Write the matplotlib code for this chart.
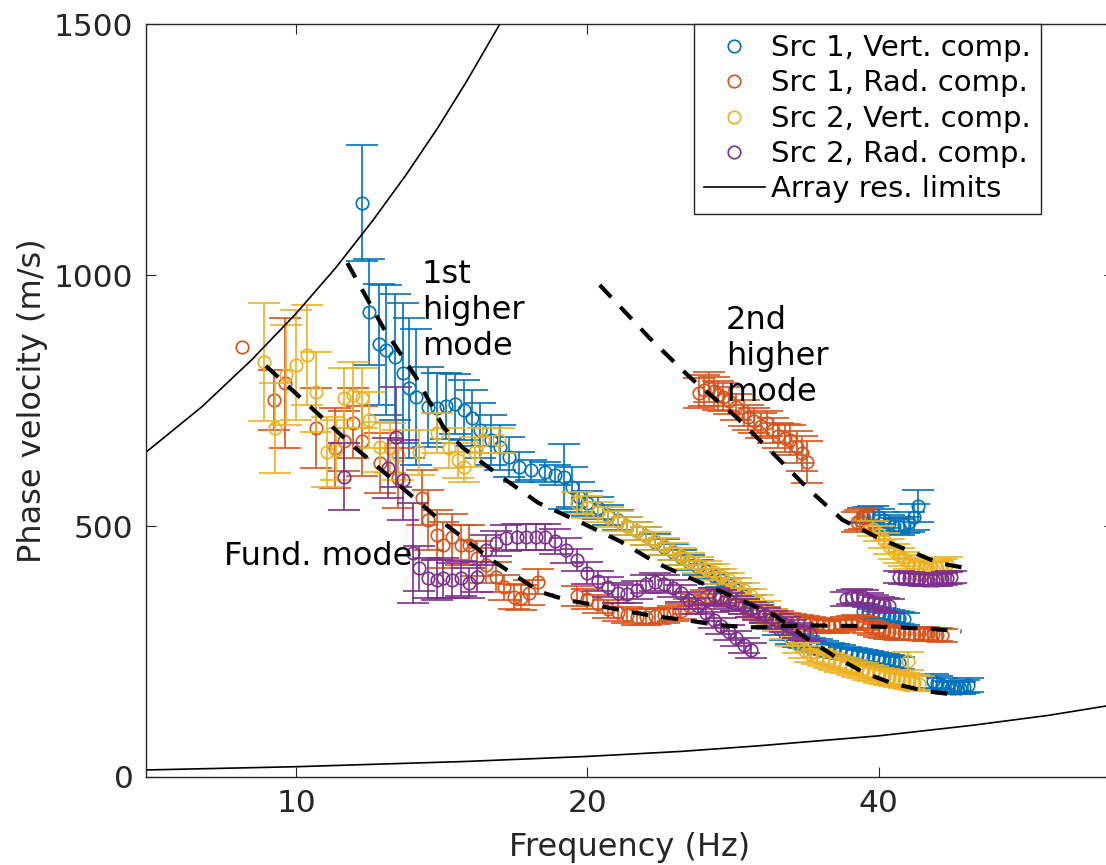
import numpy as np
import matplotlib
matplotlib.use("Agg")
import matplotlib.pyplot as plt
from matplotlib.ticker import NullLocator, FixedLocator, FixedFormatter

# ========== DATA ==========
# Src 1, vertical component
s1v_freq = [11.7, 11.9, 12.18, 12.4, 12.65, 12.9, 13.1, 13.3, 13.7, 14.0, 14.3, 14.6, 14.9, 15.2, 15.5,
            15.9, 16.25, 16.6, 17.0, 17.5, 18.1, 18.5, 18.9, 19.3, 19.6,
            20.0, 20.5, 21.0, 21.5, 22.0, 22.5, 23.0, 23.5, 24.0, 24.5, 25.0, 25.5, 26.0, 26.5, 27.0,
            27.5, 28.0, 28.5, 29.0, 29.5, 30.0, 30.5, 31.0, 31.5, 32.0, 32.5, 33.0, 33.5, 34.0, 34.5,
            35.0, 35.5, 36.0, 36.5, 37.0, 37.5, 38.0, 38.5, 39.0, 39.5, 40.0, 40.5, 41.0, 41.5, 42.0,
            45.5, 46.0, 46.5, 47.0, 47.5, 48.0, 48.5, 49.0, 49.5,
            38.5, 39.0, 39.5, 40.0, 40.5, 41.0, 41.5, 42.0, 42.5, 43.0, 43.5, 43.9,
            38.5, 39.0, 39.5, 40.0, 40.5, 41.0, 41.5, 42.0, 42.5]
s1v_vel = [1143, 926, 862, 851, 837, 805, 775, 757, 737, 735, 739, 743, 731, 715, 691,
           671, 657, 637, 617, 611, 607, 601, 598, 578, 558,
           545, 535, 522, 512, 500, 490, 480, 468, 458, 448, 438, 428, 418, 410, 400,
           392, 382, 372, 360, 348, 335, 320, 308, 296, 285, 278, 272, 268, 265, 262,
           258, 255, 252, 250, 247, 245, 243, 241, 239, 237, 235, 233, 231, 229, 227,
           192, 188, 184, 180, 178, 177, 178, 180, 183,
           520, 522, 524, 518, 512, 506, 500, 498, 502, 508, 518, 540,
           330, 328, 326, 324, 322, 320, 318, 316, 314]
s1v_err = [115, 105, 120, 130, 125, 140, 140, 135, 80, 70, 65, 60, 60, 55, 55,
           50, 45, 40, 30, 20, 20, 20, 65, 40, 30,
           25, 22, 20, 20, 18, 18, 18, 16, 16, 16, 15, 15, 15, 15, 15,
           14, 14, 14, 14, 14, 14, 13, 13, 13, 13, 13, 13, 12, 12, 12,
           12, 12, 12, 12, 12, 12, 12, 12, 12, 12, 12, 12, 12, 12, 12,
           14, 13, 13, 12, 12, 12, 12, 13, 14,
           15, 15, 15, 15, 15, 15, 15, 15, 15, 20, 25, 32,
           12, 12, 12, 12, 12, 12, 12, 12, 12]

# Src 1, radial component
s1r_freq = [8.8, 9.5, 9.74, 10.5, 10.97, 11.2, 11.45, 11.7, 12.2, 12.75, 13.5, 13.7, 14.0, 14.2, 14.5,
            14.8, 15.1, 15.4, 15.7, 16.1, 16.4, 16.8, 17.1, 17.4, 17.8,
            19.5, 20.0, 20.5, 21.0, 21.5, 22.0, 22.5, 23.0, 23.5, 24.0, 24.5, 25.0, 25.5, 26.0, 26.5,
            27.0, 27.5, 28.0, 28.5, 29.0, 29.5, 30.0, 30.5, 31.0, 31.5, 32.0, 32.5, 33.0, 33.5, 34.0,
            34.5, 35.0, 35.5, 36.0, 36.5, 37.0, 37.5, 38.0, 38.5, 39.0, 39.5, 40.0, 40.5, 41.0, 41.5,
            42.0, 42.5, 43.0, 43.5, 44.0, 44.5, 45.0, 45.5, 46.0, 46.5,
            26.1, 26.4, 26.7, 27.0, 27.3, 27.6, 28.0, 28.5, 29.0, 29.3, 29.7, 30.2, 30.7, 31.1, 31.5,
            32.0, 32.4, 32.9, 33.3, 33.7, 38.0, 38.3, 38.6]
s1r_vel = [857, 751, 785, 695, 655, 669, 705, 669, 625, 596, 556, 512, 482, 462, 478,
           462, 462, 436, 422, 398, 378, 359, 357, 367, 389,
           360, 355, 345, 335, 328, 322, 318, 318, 320, 322, 325, 330, 340, 350, 358,
           362, 360, 352, 345, 338, 332, 328, 325, 322, 318, 314, 312, 310, 308, 306,
           304, 302, 300, 300, 302, 305, 308, 310, 306, 300, 296, 292, 290, 288, 287,
           286, 286, 285, 285, 286, 285, 284, 284, 283, 282,
           765, 770, 777, 768, 760, 757, 750, 737, 725, 717, 710, 700, 705, 691, 680,
           675, 671, 657, 645, 627, 508, 512, 515]
s1r_err = [np.nan, 60, 130, 80, 80, 60, 70, 70, 60, 60, 55, 60, 50, 45, 45,
           40, 40, 35, 35, 30, 25, 25, 25, 25, 25,
           20, 20, 18, 18, 18, 16, 16, 16, 16, 15, 15, 15, 15, 15, 15,
           15, 15, 14, 14, 14, 14, 14, 14, 13, 13, 13, 13, 13, 13, 13,
           13, 13, 13, 13, 13, 13, 13, 13, 13, 13, 13, 13, 13, 13, 13,
           13, 13, 13, 13, 13, 13, 13, 13, 13, 13,
           30, 30, 30, 28, 28, 28, 26, 26, 26, 25, 25, 25, 25, 25, 25,
           28, 30, 32, 35, 42, 20, 20, 20]

# Src 2, vertical component
s2v_freq = [9.27, 9.51, 9.76, 10.0, 10.27, 10.5, 10.76, 11.0, 11.2, 11.45, 11.7, 11.9, 12.2, 12.5, 12.75,
            13.4, 14.0, 14.4, 14.7, 14.9, 15.3, 15.6, 16.2,
            19.5, 20.0, 20.5, 21.0, 21.5, 22.0, 22.5, 23.0, 23.5, 24.0, 24.5, 25.0, 25.5, 26.0, 26.5,
            27.0, 27.5, 28.0, 28.5, 29.0, 29.5, 30.0, 30.5, 31.0, 31.5, 32.0, 32.5, 33.0, 33.5, 34.0,
            34.5, 35.0, 35.5, 36.0, 36.5, 37.0, 37.5, 38.0, 38.5, 39.0, 39.5, 40.0, 40.5, 41.0, 41.5,
            42.0, 42.5, 43.0, 43.5, 44.0, 42.9,
            39.5, 40.0, 40.5, 41.0, 41.5, 42.0, 42.5, 43.0, 43.5, 44.0, 44.5, 45.0, 45.5, 46.0, 46.5, 47.0]
s2v_vel = [827, 695, 801, 821, 841, 767, 647, 651, 755, 761, 755, 711, 657, 655, 641,
           647, 685, 655, 631, 617, 647, 671, 671,
           546, 538, 528, 518, 510, 500, 490, 480, 470, 460, 450, 440, 430, 422, 415,
           408, 400, 392, 382, 372, 360, 348, 335, 320, 305, 290, 275, 262, 252, 245,
           240, 236, 232, 228, 225, 222, 218, 215, 212, 209, 206, 203, 200, 198, 196,
           194, 192, 190, 188, 186, 231,
           495, 485, 472, 460, 450, 442, 435, 428, 422, 418, 415, 414, 414, 416, 420, 425]
s2v_err = [117, 90, 100, 110, 100, 80, 70, 60, 60, 65, 60, 55, 50, 50, 50,
           45, 40, 40, 35, 30, 30, 25, 25,
           22, 22, 20, 20, 20, 18, 18, 18, 18, 17, 17, 17, 16, 16, 16,
           16, 15, 15, 15, 15, 15, 15, 15, 15, 15, 15, 15, 15, 15, 15,
           15, 15, 15, 15, 15, 15, 15, 15, 15, 15, 15, 15, 15, 15, 15,
           15, 15, 15, 15, 15, 18,
           15, 15, 15, 15, 15, 15, 14, 14, 14, 14, 14, 14, 14, 14, 14, 14]

# Src 2, radial component
s2r_freq = [11.2, 12.45, 12.7, 12.9, 13.2, 13.4, 13.7, 14.0, 14.2, 14.5, 14.8, 15.1, 15.4, 15.7, 16.1,
            16.5, 16.9, 17.3, 17.7, 18.1,
            18.5, 19.0, 19.5, 20.0, 20.5, 21.0, 21.5, 22.0, 22.5, 23.0, 23.5, 24.0, 24.5, 25.0, 25.5,
            26.0, 26.5, 27.0, 27.5, 28.0, 28.5, 29.0, 29.5,
            27.0, 27.5, 28.0, 28.5, 29.0, 29.5, 30.0, 30.5, 31.0, 31.5, 32.0, 32.5, 33.0, 33.5, 34.0,
            37.0, 37.5, 38.0, 38.5, 39.0, 39.5, 40.0, 40.5, 41.0,
            42.0, 42.5, 43.0, 43.5, 44.0, 44.5, 45.0, 45.5, 46.0, 46.5, 47.0, 47.5]
s2r_vel = [598, 615, 677, 592, 446, 416, 396, 392, 396, 392, 396, 386, 398, 452, 466,
           476, 478, 478, 478, 478,
           470, 452, 432, 406, 390, 379, 367, 365, 372, 385, 388, 384, 376, 366, 352,
           340, 326, 312, 300, 288, 276, 262, 252,
           360, 356, 350, 345, 340, 334, 328, 322, 316, 310, 304, 298, 292, 288, 285,
           355, 358, 360, 358, 352, 348, 345, 342, 340,
           398, 397, 396, 395, 394, 393, 392, 392, 393, 394, 396, 398]
s2r_err = [67, 60, 100, 80, 100, 45, 40, 40, 40, 35, 35, 30, 30, 30, 25,
           25, 25, 25, 25, 25,
           25, 25, 22, 22, 20, 20, 20, 18, 18, 18, 18, 18, 17, 17, 17,
           16, 16, 16, 16, 15, 15, 15, 15,
           16, 16, 16, 15, 15, 15, 15, 15, 15, 15, 15, 15, 15, 15, 15,
           14, 14, 14, 14, 14, 14, 14, 14, 14,
           12, 12, 12, 12, 12, 12, 12, 12, 12, 12, 12, 12]

# array resolution limits
lim_hi_freq = [7.0, 8.0, 9.0, 10.0, 11.0, 12.0, 13.0, 14.0, 15.0, 16.3]
lim_hi_vel = [647, 738, 831, 923, 1015, 1108, 1200, 1292, 1385, 1505]
lim_lo_freq = [7.0, 10.0, 15.0, 20.0, 25.0, 30.0, 40.0, 50.0, 60.0, 70.0]
lim_lo_vel = [14, 20.5, 31, 41, 51, 62, 82, 103, 123, 144]

# theoretical modes (dashed)
fund_freq = [9.31, 11.37, 14.08, 16.0, 17.86, 19.0, 20.3, 22.0, 23.5, 25.2, 27.2, 29.4, 33.5, 37.5, 42.0, 46.0, 48.7]
fund_vel = [819, 665, 512, 430, 369, 353, 343, 330, 320, 313, 303, 298, 302, 301, 298, 294, 290]
mode1_freq = [11.3, 12.3, 13.3, 14.2, 14.85, 15.6, 16.3, 17.8, 19.8, 21.6, 23.6, 25.4, 27.1, 29.0, 31.2,
              33.6, 35.9, 38.6, 41.4, 44.6, 48.6]
mode1_vel = [1024, 896, 797, 697, 657, 625, 598, 546, 505, 470, 426, 398, 375, 350, 322,
             278, 242, 208, 186, 172, 162]
mode2_freq = [20.6, 23.2, 25.5, 28.5, 31.4, 33.9, 36.7, 40.4, 46.2, 49.9]
mode2_vel = [980, 874, 797, 717, 637, 572, 512, 472, 426, 414]

series = [
    ("Src 1, Vert. comp.", s1v_freq, s1v_vel, s1v_err, "#0072BD"),
    ("Src 1, Rad. comp.", s1r_freq, s1r_vel, s1r_err, "#D95319"),
    ("Src 2, Vert. comp.", s2v_freq, s2v_vel, s2v_err, "#EDB120"),
    ("Src 2, Rad. comp.", s2r_freq, s2r_vel, s2r_err, "#7E2F8E"),
]

# ========== PLOT ==========
plt.rcParams['font.family'] = ['DejaVu Sans']
fig = plt.figure(figsize=(11.06, 8.65), dpi=100)
ax = fig.add_axes([146 / 1106, 1 - 777 / 865, (1114 - 146) / 1106, (777 - 24) / 865])

for label, f, v, e, col in series:
    ax.errorbar(f, v, yerr=np.array(e, dtype=float), fmt='none', ecolor=col,
                elinewidth=1.2, capsize=11.5, capthick=1.2)
    ax.plot(f, v, 'o', mfc='none', mec=col, ms=9, mew=1.2, label=label)

ax.plot(lim_hi_freq, lim_hi_vel, '-', color='k', lw=1.2, label="Array res. limits")
ax.plot(lim_lo_freq, lim_lo_vel, '-', color='k', lw=1.2)

for fq, vl in [(fund_freq, fund_vel), (mode1_freq, mode1_vel), (mode2_freq, mode2_vel)]:
    ax.plot(fq, vl, '--', color='k', lw=3, dashes=(4, 3.2))

# multi-line labels are anchored on the baseline of their last line
ax.text(8.43, 422, "Fund. mode", fontsize=23, ha='left', va='baseline')
ax.text(13.49, 841, "1st\nhigher\nmode", fontsize=23, ha='left', va='baseline', linespacing=1.2)
ax.text(27.8, 749, "2nd\nhigher\nmode", fontsize=23, ha='left', va='baseline', linespacing=1.2)

ax.set_xscale('log')
ax.set_xlim(7, 70)
ax.set_ylim(0, 1500)
ax.xaxis.set_major_locator(FixedLocator([10, 20, 40]))
ax.xaxis.set_major_formatter(FixedFormatter(["10", "20", "40"]))
ax.xaxis.set_minor_locator(NullLocator())
ax.set_yticks([0, 500, 1000, 1500])

ax.tick_params(which='both', direction='in', length=7, width=0.8, top=True, right=True,
               labelsize=22.5, colors='#262626', pad=9)
for sp in ax.spines.values():
    sp.set_color('#262626')
    sp.set_linewidth(1.0)

ax.set_xlabel("Frequency (Hz)", fontsize=23, color='#262626', labelpad=10)
ax.set_ylabel("Phase velocity (m/s)", fontsize=23, color='#262626', labelpad=4)

leg = ax.legend(loc='upper right', bbox_to_anchor=(1041 / 1106, 1 - 24 / 865),
                bbox_transform=fig.transFigure, borderaxespad=0, fontsize=21,
                numpoints=1, handlelength=2.1, handletextpad=0.2, labelspacing=0.25,
                borderpad=0.35, fancybox=False, framealpha=1)
leg.get_frame().set_edgecolor('#262626')
leg.get_frame().set_linewidth(1.0)

fig.savefig("out.png", dpi=100)
plt.close(fig)
print("[INFO] Saved out.png")
